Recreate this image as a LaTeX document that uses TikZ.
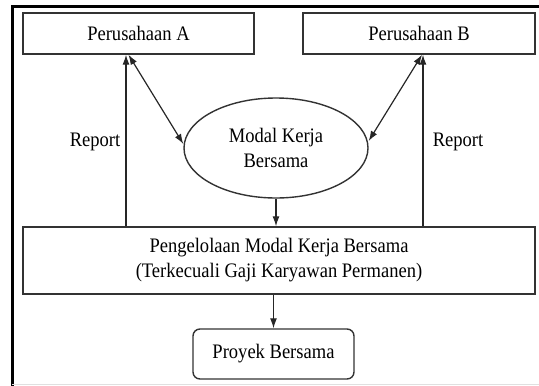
\documentclass[tikz,border=0pt]{standalone}
\usepackage{fontspec}
\setmainfont{Liberation Serif}[FakeStretch=0.9]
\usepackage{tikz}
\usetikzlibrary{shapes.geometric,arrows.meta}

\tikzset{
	kotak/.style={draw=black!80, line width=1.4pt, inner sep=0pt, font=\fontsize{20.6}{25}\selectfont, align=center},
	panah/.style={draw=black!85, line width=1.2pt, -{Latex[length=10pt,width=7pt]}},
	duapanah/.style={draw=black!85, line width=1.2pt, {Latex[length=10pt,width=7pt]}-{Latex[length=10pt,width=7pt]}}
}

\begin{document}
\begin{tikzpicture}[x=1pt,y=-1pt]
					\useasboundingbox (0,0) rectangle (539,386);
					\draw[line width=3pt] (12,386) -- (12,6) -- (539,6);
					\draw[black!12, line width=1pt] (12,384) -- (539,384);
					
					\node[kotak, minimum width=231pt, minimum height=41pt] (pa) at (138.5,33.5) {Perusahaan A};
					\node[kotak, minimum width=232pt, minimum height=41pt] (pb) at (419,33.5) {Perusahaan B};
					\node[kotak, ellipse, minimum width=184pt, minimum height=100pt] (ell) at (276,148) {Modal Kerja\\Bersama};
					\node[kotak, minimum width=512pt, minimum height=67pt] (big) at (279,260.5) {Pengelolaan Modal Kerja Bersama\\(Terkecuali Gaji Karyawan Permanen)};
					\node[kotak, rounded corners=7pt, minimum width=161pt, minimum height=50pt] (pro) at (273.5,354) {Proyek Bersama};
					
					\coordinate (ra) at (126,0);
					\coordinate (rb) at (423,0);
					
					\draw[panah] (ra |- big.north) -- (ra |- pa.south);
					\draw[panah] (rb |- big.north) -- (rb |- pb.south);
					\draw[duapanah] ([xshift=-10pt]pa.south) -- ([yshift=4pt]ell.west);
					\draw[duapanah] ([xshift=3pt]pb.south) -- ([yshift=7pt]ell.east);
					\draw[panah] (ell.south) -- (ell.south |- big.north);
					\draw[panah] (pro.north |- big.south) -- (pro.north);
					
					\node[font=\fontsize{20.6}{25}\selectfont] (lra) at (95,142) {Report};
					\node[font=\fontsize{20.6}{25}\selectfont] (lrb) at (458,142) {Report};
					
				\end{tikzpicture}
\end{document}
